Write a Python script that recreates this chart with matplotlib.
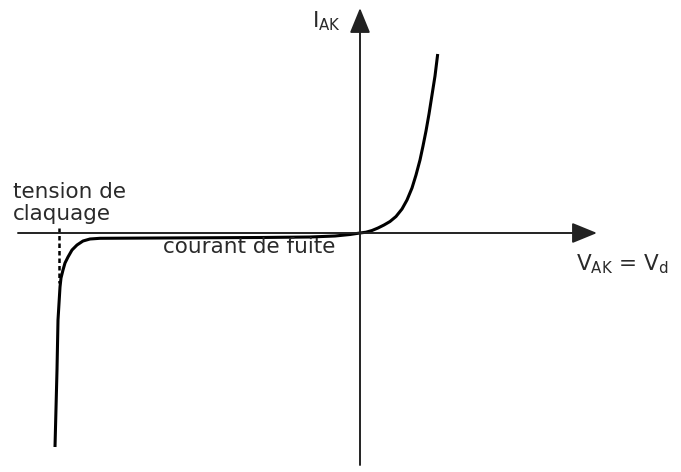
import matplotlib
matplotlib.use("Agg")
import matplotlib.pyplot as plt

plt.rcParams['font.family'] = ['DejaVu Sans']
plt.rcParams['mathtext.fontset'] = 'dejavusans'
plt.rcParams['mathtext.default'] = 'regular'

# Forward characteristic (V_AK > 0), offsets from origin in drawing units
forward_v = [0, 6, 12, 18, 24, 30, 36, 42, 47, 52, 56, 60, 63, 66, 69, 72, 75, 77.7]
forward_i = [0, 0.8, 2.5, 5, 8, 11.5, 16.5, 24, 33, 45, 58, 73, 87, 102, 119, 138, 157, 179]

# Reverse characteristic: leakage current then breakdown
reverse_v = [0, -10, -25, -50, -100, -200, -260, -270, -277, -283, -288, -292,
             -295, -297, -299, -300, -302, -303, -305]
reverse_i = [0, -1.5, -3, -4, -4.5, -5, -5.3, -6, -8, -12, -17, -24,
             -30, -37, -45, -54, -87, -137, -214]

# Breakdown voltage marker
breakdown_v = -301
breakdown_span = [5, -50]

# Axis extents
x_axis = [-342, 237]
y_axis = [-232, 225]

labels = {
    "iak": r"I$_{AK}$",
    "vak": r"V$_{AK}$ = V$_{d}$",
    "tension1": "tension de",
    "tension2": "claquage",
    "fuite": "courant de fuite",
}

fig = plt.figure(figsize=(6.81, 4.72), dpi=100)
ax = fig.add_axes([0, 0, 1, 1])
ax.set_xlim(-360, 321)
ax.set_ylim(-239, 233)
ax.axis('off')

axis_color = '#222222'
arrow_style = '-|>,head_length=1.1,head_width=0.45'
ax.annotate('', xy=(x_axis[1], 0), xytext=(x_axis[0], 0),
            arrowprops=dict(arrowstyle=arrow_style, color=axis_color, lw=1.4,
                            shrinkA=0, shrinkB=0, mutation_scale=14))
ax.annotate('', xy=(0, y_axis[1]), xytext=(0, y_axis[0]),
            arrowprops=dict(arrowstyle=arrow_style, color=axis_color, lw=1.4,
                            shrinkA=0, shrinkB=0, mutation_scale=14))

ax.plot(forward_v, forward_i, color='black', lw=2.2, solid_capstyle='butt',
        solid_joinstyle='round')
ax.plot(reverse_v, reverse_i, color='black', lw=2.2, solid_capstyle='butt',
        solid_joinstyle='round')
ax.plot([breakdown_v, breakdown_v], breakdown_span, color='black', lw=1.8,
        linestyle=(0, (1.8, 1.2)))

txt_color = '#2a2a2a'
fs = 15.5
ax.text(-48, 206, labels["iak"], fontsize=fs, color=txt_color, va='baseline', ha='left')
ax.text(216, -37, labels["vak"], fontsize=fs, color=txt_color, va='baseline', ha='left')
ax.text(-347, 35, labels["tension1"], fontsize=fs, color=txt_color, va='baseline', ha='left')
ax.text(-347, 13, labels["tension2"], fontsize=fs, color=txt_color, va='baseline', ha='left')
ax.text(-197, -20, labels["fuite"], fontsize=fs, color=txt_color, va='baseline', ha='left')

fig.savefig('out.png', dpi=100)
